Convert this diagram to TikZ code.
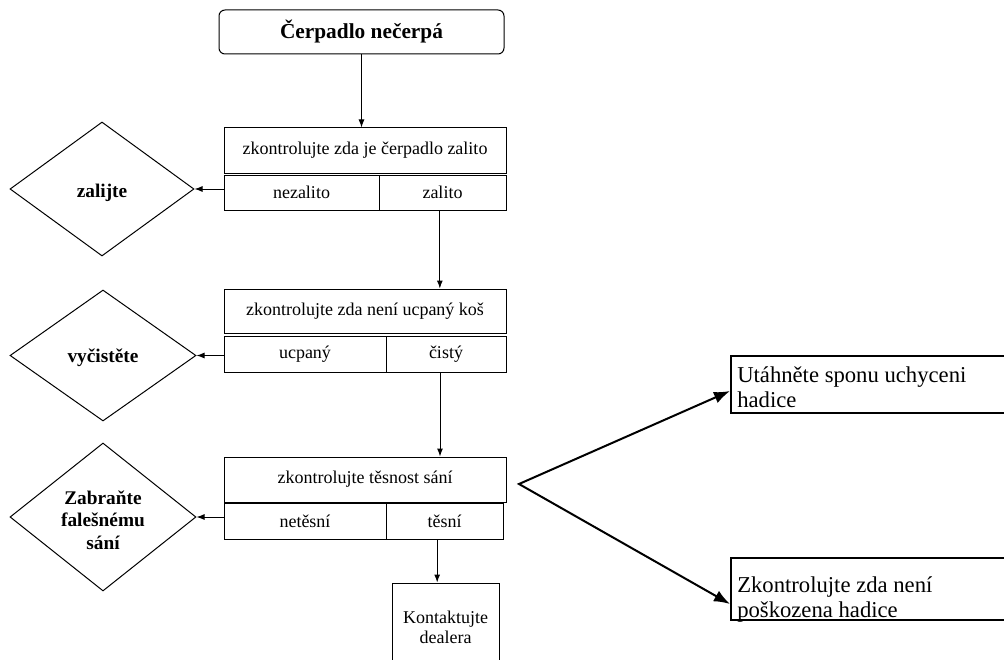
\documentclass[tikz,border=0pt]{standalone}
\usepackage{fontspec}
\setmainfont{Liberation Serif}
\usetikzlibrary{shapes.geometric,arrows.meta,calc}
\begin{document}
\begin{tikzpicture}[x=0.75pt,y=-0.75pt,
  box/.style={draw,line width=0.75pt,inner sep=0pt,font=\fontsize{13.5}{15}\selectfont,align=center},
  topbox/.style={draw,line width=0.75pt,rounded corners=4.5pt,inner sep=0pt,minimum width=213.75pt,minimum height=33pt,font=\fontsize{16}{19}\selectfont\bfseries},
  dia/.style={draw,diamond,line width=0.75pt,inner sep=0pt},
  dtext/.style={inner sep=0pt,align=center,font=\fontsize{14.5}{17}\selectfont\bfseries},
  rbox/.style={draw,line width=1.5pt,inner sep=0pt,minimum width=213pt},
  rtext/.style={inner sep=0pt,align=left,font=\fontsize{17}{18.75}\selectfont},
  arr/.style={line width=0.75pt,-{Latex[length=6pt,width=4.5pt]}},
  tarr/.style={line width=1.5pt,line join=miter,{Latex[length=12pt,width=9pt]}-{Latex[length=12pt,width=9pt]}}
]
\useasboundingbox (0,0) rectangle (1004,660);
\clip (0,0) rectangle (1004,660);

\node[topbox] (top) at (361.5,32) {Čerpadlo nečerpá};

\node[box,minimum width=211.5pt,minimum height=33.75pt] (b1) at (365,150.5) {zkontrolujte zda je čerpadlo zalito};
\node[box,minimum width=116.25pt,minimum height=26.25pt] (nz1) at (301.5,192.5) {nezalito};
\node[box,minimum width=95.25pt,minimum height=26.25pt] (z1) at (442.5,192.5) {zalito};

\node[box,minimum width=211.5pt,minimum height=33pt] (b2) at (365,311) {zkontrolujte zda není ucpaný koš};
\node[box,minimum width=121.5pt,minimum height=27pt] (uc) at (305,354) {ucpaný};
\node[box,minimum width=90pt,minimum height=27pt] (ci) at (446,354) {čistý};

\node[box,minimum width=211.5pt,minimum height=33.75pt] (b3) at (365,479.5) {zkontrolujte těsnost sání};
\node[box,minimum width=121.5pt,minimum height=27pt] (nt) at (305,521.5) {netěsní};
\node[box,minimum width=87.75pt,minimum height=27pt] (ts) at (444.5,521.5) {těsní};

\node[box,minimum width=80.25pt,minimum height=66pt] (kd) at (445.5,627) {Kontaktujte\\dealera};

\node[dia,minimum width=138pt,minimum height=100.5pt] (d1) at (102,189) {};
\node[dia,minimum width=139.5pt,minimum height=98.25pt] (d2) at (103,355.5) {};
\node[dia,minimum width=139.5pt,minimum height=111pt] (d3) at (103,517) {};
\node[dtext] (d1t) at ($(d1.center)+(0,4)$) {zalijte};
\node[dtext] (d2t) at ($(d2.center)+(0,2)$) {vyčistěte};
\node[dtext] (d3t) at ($(d3.center)+(0,3)$) {Zabraňte\\falešnému\\sání};

\draw[arr] (top.south) -- (top.south |- b1.north);
\draw[arr] (nz1.west |- d1.east) -- (d1.east);
\draw[arr] ([xshift=-2pt]z1.south) -- ([xshift=-2pt]z1.south |- b2.north);
\draw[arr] (uc.west |- d2.east) -- (d2.east);
\draw[arr] ([xshift=-4.5pt]ci.south) -- ([xshift=-4.5pt]ci.south |- b3.north);
\draw[arr] (nt.west |- d3.east) -- (d3.east);
\draw[arr] ([xshift=-5.5pt]ts.south) -- ([xshift=-5.5pt]ts.south |- kd.north);

\coordinate (v) at (519,484);
\node[rbox,minimum height=42.75pt] (r1) at (873,384.5) {};
\node[rbox,minimum height=46.5pt] (r2) at (873,589) {};
\node[rtext,anchor=base west] (r1t) at (737,407) {Utáhněte sponu uchyceni\\hadice};
\begin{scope}
\clip (r2.north west) rectangle (r2.south east);
\node[rtext,anchor=base west] (r2t) at (737,617) {Zkontrolujte zda není\\poškozena hadice};
\end{scope}
\draw[tarr] ($(r1.west)+(0,6.5)$) -- (v) -- ($(r2.west)+(0,15)$);
\end{tikzpicture}
\end{document}
